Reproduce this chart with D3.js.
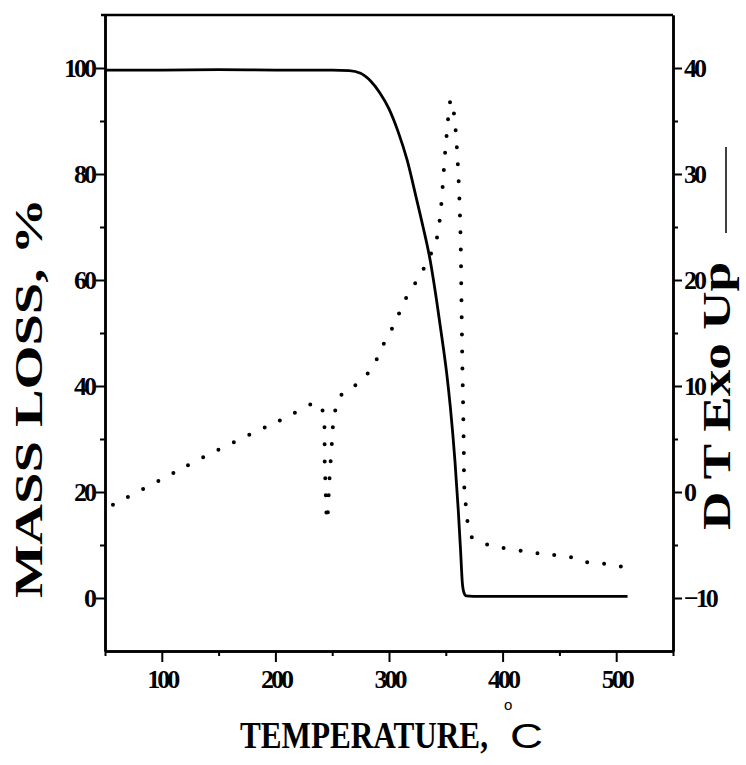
<!DOCTYPE html>
<html>
<head>
<meta charset="utf-8">
<script src="https://cdn.jsdelivr.net/npm/d3@7"></script>
<style>
    body { margin: 0; background: #fff; }
    svg { display: block; }
    .tick text { font-family: "Liberation Serif", serif; font-weight: bold; font-size: 26px; letter-spacing: -3px; fill: #000; }
    .domain { stroke: #000; stroke-width: 2.5; }
    .tick line { stroke: #000; stroke-width: 2; }
</style>
</head>
<body>
<svg id="chart" width="746" height="765"></svg>
<script>
// --- Data ---
const tgaTemp = [50, 100, 150, 200, 250, 265, 275, 284, 292, 300, 308, 316, 324, 330, 336, 342, 347, 351, 354, 358, 361, 363, 364.5, 366, 368, 380, 450, 510];
const tgaMass = [99.6, 99.6, 99.7, 99.6, 99.6, 99.5, 99.0, 97.5, 95.3, 92.3, 88.0, 82.6, 75.5, 70.0, 64.0, 56.0, 48.5, 42.0, 36.0, 26.0, 16.5, 9.0, 3.0, 1.0, 0.4, 0.3, 0.3, 0.3];

const dtaTemp = [57, 100, 135, 181, 207, 232, 237, 241.5, 243.5, 245.5, 247.5, 250, 252, 259, 272, 285, 295, 305, 314, 326, 334, 342, 345, 347, 349.6, 351.5, 353.5, 355, 357.5, 360.4, 362.8, 363.7, 364.5, 365.2, 365.8, 366.5, 368.6, 371.6, 385, 397, 420, 440, 458, 472, 486, 498, 511];
const dtaSignal = [-1.2, 1.2, 3.2, 5.6, 6.9, 8.3, 8.4, 7.7, 2.5, -2.7, 1.0, 5.0, 7.4, 9.3, 10.2, 11.7, 13.9, 15.9, 18.1, 20.2, 21.8, 23.9, 26.0, 28.5, 32.3, 34.5, 36.7, 37.0, 35.4, 31.3, 24.9, 18.7, 12.5, 8.4, 4.3, 0.0, -2.0, -4.1, -4.9, -5.2, -5.6, -5.9, -6.1, -6.6, -6.7, -7.0, -7.0];

const xMajor = [100, 200, 300, 400, 500];
const xMinor = [50, 150, 250, 350, 450, 550];
const leftMajor = [0, 20, 40, 60, 80, 100];
const leftMinor = [10, 30, 50, 70, 90];
const rightMajor = [-10, 0, 10, 20, 30, 40];
const rightMinor = [-5, 5, 15, 25, 35];

// --- Sizing ---
const margin = { top: 15, right: 73, bottom: 114, left: 105 };
const width = 746, height = 765;
const svg = d3.select("#chart");

// --- Scales ---
const x = d3.scaleLinear().domain([50, 550]).range([margin.left, width - margin.right]);
const yL = d3.scaleLinear().domain([-10, 110]).range([height - margin.bottom, margin.top]);
const yR = d3.scaleLinear().domain([-15, 45]).range([height - margin.bottom, margin.top]);

// --- Axes ---
const bottomY = height - margin.bottom;
const rightX = width - margin.right;

svg.append("g").attr("transform", `translate(0,${bottomY})`)
    .call(d3.axisBottom(x).tickValues(xMinor).tickSize(5).tickFormat("").tickSizeOuter(0));
svg.append("g").attr("transform", `translate(0,${bottomY})`)
    .call(d3.axisBottom(x).tickValues(xMajor).tickSize(11).tickPadding(8).tickSizeOuter(0));

svg.append("g").attr("transform", `translate(${margin.left},0)`)
    .call(d3.axisLeft(yL).tickValues(leftMinor).tickSize(5).tickFormat("").tickSizeOuter(0));
svg.append("g").attr("transform", `translate(${margin.left},0)`)
    .call(d3.axisLeft(yL).tickValues(leftMajor).tickSize(9).tickPadding(2).tickSizeOuter(0));

svg.append("g").attr("transform", `translate(${rightX},0)`)
    .call(d3.axisRight(yR).tickValues(rightMinor).tickSize(5).tickFormat("").tickSizeOuter(0));
svg.append("g").attr("transform", `translate(${rightX},0)`)
    .call(d3.axisRight(yR).tickValues(rightMajor).tickSize(9).tickPadding(2).tickSizeOuter(0));

// top border
svg.append("line")
    .attr("x1", margin.left - 4).attr("x2", rightX)
    .attr("y1", margin.top).attr("y2", margin.top)
    .attr("stroke", "#000").attr("stroke-width", 2.5);

// --- TGA curve (solid) ---
const tga = tgaTemp.map((t, i) => [t, tgaMass[i]]);
svg.append("path")
    .datum(tga)
    .attr("fill", "none")
    .attr("stroke", "#000")
    .attr("stroke-width", 2.8)
    .attr("d", d3.line().x(d => x(d[0])).y(d => yL(d[1])).curve(d3.curveMonotoneX));

// --- DTA curve (dotted) ---
const dta = dtaTemp.map((t, i) => [t, dtaSignal[i]]);
svg.append("path")
    .datum(dta)
    .attr("fill", "none")
    .attr("stroke", "#000")
    .attr("stroke-width", 4)
    .attr("stroke-linecap", "round")
    .attr("stroke-dasharray", "0,17")
    .attr("d", d3.line().x(d => x(d[0])).y(d => yR(d[1])).curve(d3.curveCatmullRom));

// --- Axis titles ---
// stretched text: measure natural width, then scale along the reading direction
function stretchedText(str, font, size, weight, len, place) {
    const t = svg.append("text")
        .style("font-family", font)
        .style("font-weight", weight)
        .style("font-size", size + "px")
        .text(str);
    const w = t.node().getComputedTextLength();
    t.attr("transform", place + ` scale(${len / w},1)`);
    return t;
}

stretchedText("MASS LOSS, %", "'Liberation Serif', serif", 40, "bold", 400,
    "translate(42,598) rotate(-90)");
stretchedText("D T Exo Up", "'Liberation Serif', serif", 40, "bold", 268,
    "translate(730,530) rotate(-90)");
stretchedText("TEMPERATURE,", "'Liberation Serif', serif", 38, "bold", 248,
    "translate(240,748)");
stretchedText("C", "'Liberation Sans', sans-serif", 35, "normal", 33,
    "translate(510,748)");

// small legend stroke beside the right title
svg.append("line")
    .attr("x1", 726).attr("x2", 726)
    .attr("y1", 147).attr("y2", 233)
    .attr("stroke", "#000").attr("stroke-width", 1.5);

svg.append("text")
    .attr("x", 504).attr("y", 710)
    .style("font-family", "'Liberation Sans', sans-serif")
    .style("font-size", "15px")
    .text("o");
</script>
</body>
</html>
